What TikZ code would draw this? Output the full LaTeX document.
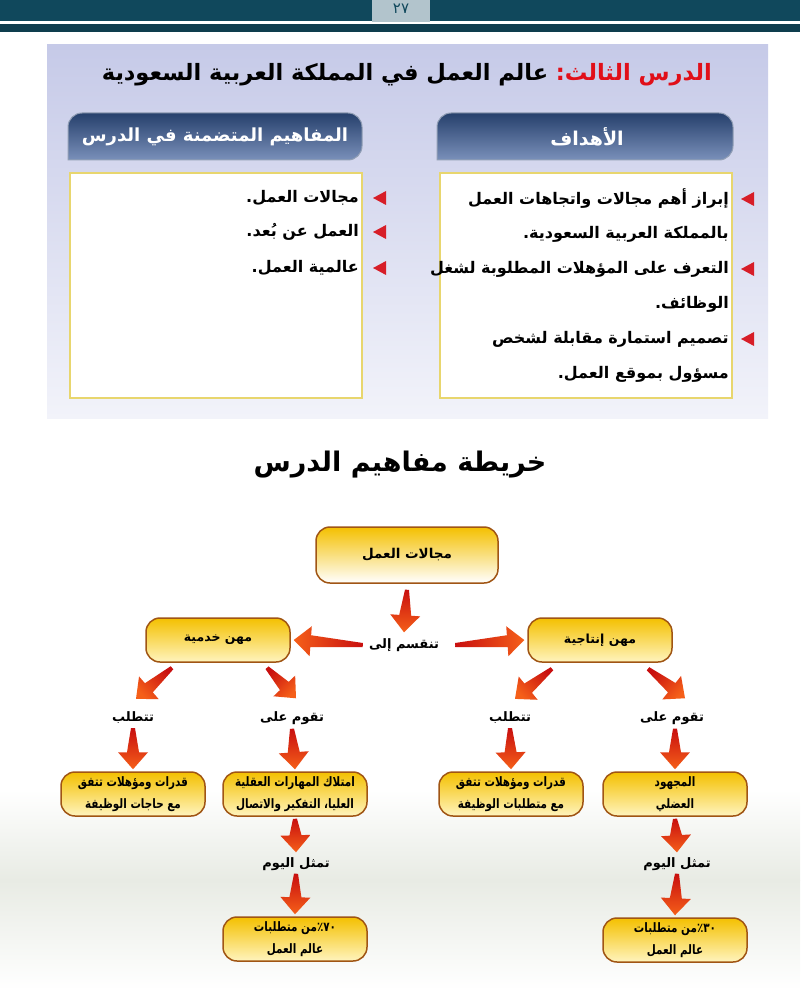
\documentclass[tikz,border=0pt]{standalone}
\usepackage{fontspec}
\usetikzlibrary{calc}
\newfontfamily\ar[Script=Arabic]{DejaVu Sans}
\newfontfamily\arc[Script=Arabic,FakeStretch=0.8]{DejaVu Sans}
\TeXXeTstate=1
\definecolor{topteal}{RGB}{16,72,92}
\definecolor{tabgray}{RGB}{178,196,204}
\definecolor{lav}{RGB}{198,202,232}
\definecolor{lavlight}{RGB}{242,243,250}
\definecolor{tabtop}{RGB}{38,64,108}
\definecolor{tabbot}{RGB}{122,144,186}
\definecolor{boxline}{RGB}{232,214,110}
\definecolor{markred}{RGB}{215,30,40}
\definecolor{nodeline}{RGB}{160,85,20}
\definecolor{nodetop}{RGB}{244,192,0}
\definecolor{nodebot}{RGB}{255,244,190}
\definecolor{arrred}{RGB}{200,15,15}
\definecolor{arrorange}{RGB}{245,95,25}
\definecolor{titlered}{RGB}{225,15,25}
\definecolor{bandgray}{RGB}{232,235,228}
\newcommand\fatarrow[3][0]{%
 \shade[top color=arrred, bottom color=arrorange, shading angle=#1]
  ($#2!2pt!90:#3$) -- ($($#3!17pt!#2$)!6pt!90:#3$) -- ($($#3!17pt!#2$)!15pt!90:#3$)
  -- #3 -- ($($#3!17pt!#2$)!15pt!-90:#3$) -- ($($#3!17pt!#2$)!6pt!-90:#3$)
  -- ($#2!2pt!-90:#3$) -- cycle;}
\begin{document}
\begin{tikzpicture}[x=1pt,y=-1pt,
  fnode/.style={draw=nodeline, line width=1.5pt, rounded corners=14pt,
    top color=nodetop, bottom color=nodebot, minimum width=144pt, minimum height=44pt,
    align=center, inner sep=2pt, font=\ar\bfseries\fontsize{12.5}{22}\selectfont},
  fnode2/.style={fnode, font=\arc\bfseries\fontsize{13}{22}\selectfont},
  lbl/.style={inner sep=2pt, font=\ar\bfseries\fontsize{13}{15}\selectfont},
  listtxt/.style={anchor=east, inner sep=0pt, font=\ar\bfseries\fontsize{16}{18}\selectfont},
  listbox/.style={draw=boxline, line width=1.5pt, fill=white},
  tabshape/.style={top color=tabtop, bottom color=tabbot, draw=tabtop!50!white, line width=1pt},
  tabtxt/.style={text=white, font=\ar\bfseries\fontsize{18}{20}\selectfont},
  titletxt/.style={anchor=east, inner sep=0pt, font=\ar\bfseries\fontsize{22.5}{26}\selectfont},
  marker/.style={fill=markred}]
\useasboundingbox (0,0) rectangle (800,1000);
\fill[white] (0,0) rectangle (800,1000);
% top bar
\fill[topteal] (0,0) rectangle (800,21);
\fill[topteal!85!black] (0,24) rectangle (800,32);
\fill[tabgray] (372,0) rectangle (430,22);
\node[text=topteal, font=\ar\fontsize{15}{16}\selectfont] (pnum) at (401,9) {٢٧};
% lavender panel
\shade[top color=lav, bottom color=lavlight] (47,45) rectangle (768,418);
\node[titletxt, text=titlered] (titleA) at (712,75) {\beginR الدرس الثالث:\endR};
\node[titletxt] (titleB) at ([xshift=-7pt]titleA.east -| titleA.west) {\beginR عالم العمل في المملكة العربية السعودية\endR};
% tabs
\path[tabshape] (68,160) [rounded corners=14pt] |- (215,113) -| (362,160) [sharp corners] -- cycle;
\path[tabshape] (437,160) [rounded corners=14pt] |- (585,113) -| (733,160) [sharp corners] -- cycle;
\node[tabtxt] (tabL) at (215,137) {\beginR المفاهيم المتضمنة في الدرس\endR};
\node[tabtxt, font=\ar\bfseries\fontsize{19}{21}\selectfont] (tabR) at (587,137) {\beginR الأهداف\endR};
% boxes
\draw[listbox] (70,173) rectangle (362,398);
\draw[listbox] (440,173) rectangle (732,398);
% left list
\foreach \y in {198,232,268} {\fill[marker] (373,\y) -- (386,\y-7) -- (386,\y+7) -- cycle;}
\node[listtxt] (c1) at (359,198) {\beginR مجالات العمل.\endR};
\node[listtxt] (c2) at (359,232) {\beginR العمل عن بُعد.\endR};
\node[listtxt] (c3) at (359,268) {\beginR عالمية العمل.\endR};
% right list
\foreach \y in {199,269,339} {\fill[marker] (741,\y) -- (754,\y-7) -- (754,\y+7) -- cycle;}
\node[listtxt] (g1) at (729,199) {\beginR إبراز أهم مجالات واتجاهات العمل\endR};
\node[listtxt] (g2) at (729,234) {\beginR بالمملكة العربية السعودية.\endR};
\node[listtxt] (g3) at (729,269) {\beginR التعرف على المؤهلات المطلوبة لشغل\endR};
\node[listtxt] (g4) at (729,304) {\beginR الوظائف.\endR};
\node[listtxt] (g5) at (729,339) {\beginR تصميم استمارة مقابلة لشخص\endR};
\node[listtxt] (g6) at (729,374) {\beginR مسؤول بموقع العمل.\endR};
% map title
\node[font=\ar\bfseries\fontsize{27}{30}\selectfont] (maptitle) at (400,465) {\beginR خريطة مفاهيم الدرس\endR};
% faint band
\shade[top color=white, bottom color=bandgray] (0,790) rectangle (800,880);
\shade[top color=bandgray, bottom color=white] (0,880) rectangle (800,990);
% nodes
\node[fnode, minimum width=182pt, minimum height=56pt, bottom color=white, font=\ar\bfseries\fontsize{13.5}{16}\selectfont] (root) at (407,555) {\beginR مجالات العمل\endR};
\node[lbl] (split) at (404,645) {\beginR تنقسم إلى\endR};
\node[fnode] (serv) at (218,640) {\beginR مهن خدمية\endR};
\node[fnode] (prod) at (600,640) {\beginR مهن إنتاجية\endR};
\node[lbl] (req1) at (133,718) {\beginR تتطلب\endR};
\node[lbl] (base1) at (292,718) {\beginR تقوم على\endR};
\node[lbl] (req2) at (510,718) {\beginR تتطلب\endR};
\node[lbl] (base2) at (672,718) {\beginR تقوم على\endR};
\node[fnode2] (q1) at (133,794) {\beginR قدرات ومؤهلات تتفق\endR\\\beginR مع حاجات الوظيفة\endR};
\node[fnode2] (skills) at (295,794) {\beginR امتلاك المهارات العقلية\endR\\\beginR العليا، التفكير والاتصال\endR};
\node[fnode2] (q2) at (511,794) {\beginR قدرات ومؤهلات تتفق\endR\\\beginR مع متطلبات الوظيفة\endR};
\node[fnode2] (effort) at (675,794) {\beginR المجهود\endR\\\beginR العضلي\endR};
\node[lbl] (rep1) at (296,864) {\beginR تمثل اليوم\endR};
\node[lbl] (rep2) at (677,864) {\beginR تمثل اليوم\endR};
\node[fnode2] (p70) at (295,939) {\beginR ٧٠٪من متطلبات\endR\\\beginR عالم العمل\endR};
\node[fnode2] (p30) at (675,940) {\beginR ٣٠٪من متطلبات\endR\\\beginR عالم العمل\endR};
% arrow end points
\coordinate (a1s) at ([yshift=-6pt]root.south);
\coordinate (a1e) at ([yshift=4pt]split.north);
\coordinate (a2s) at ([xshift=-4pt]split.west);
\coordinate (a2e) at ([xshift=3pt]serv.east);
\coordinate (a3s) at ([xshift=14pt]split.east);
\coordinate (a3e) at ([xshift=-3pt]prod.west);
\coordinate (a4s) at ($(serv.south)+(-46,5)$);
\coordinate (a4e) at ($(req1.north)+(3,-11)$);
\coordinate (a5s) at ($(serv.south)+(49,5)$);
\coordinate (a5e) at ($(base1.north)+(4,-11)$);
\coordinate (a6s) at ($(prod.south)+(-48,6)$);
\coordinate (a6e) at ($(req2.north)+(5,-11)$);
\coordinate (a7s) at ($(prod.south)+(48,6)$);
\coordinate (a7e) at ($(base2.north)+(13,-11)$);
\fatarrow{(a1s)}{(a1e)}
\fatarrow[-90]{(a2s)}{(a2e)}
\fatarrow[90]{(a3s)}{(a3e)}
\fatarrow[-45]{(a4s)}{(a4e)}
\fatarrow[45]{(a5s)}{(a5e)}
\fatarrow[-45]{(a6s)}{(a6e)}
\fatarrow[45]{(a7s)}{(a7e)}
\fatarrow{([yshift=-2pt]req1.south)}{([yshift=2pt]q1.north)}
\fatarrow{([yshift=-2pt]base1.south)}{([yshift=2pt]skills.north)}
\fatarrow{([yshift=-2pt]req2.south)}{([yshift=2pt]q2.north)}
\fatarrow{([yshift=-2pt,xshift=3pt]base2.south)}{([yshift=2pt]effort.north)}
\fatarrow{([yshift=-2pt]skills.south)}{([yshift=3pt]rep1.north)}
\fatarrow{([yshift=-1pt]rep1.south)}{([yshift=2pt]p70.north)}
\fatarrow{([yshift=-2pt]effort.south)}{([yshift=3pt]rep2.north)}
\fatarrow{([yshift=-1pt]rep2.south)}{([yshift=2pt]p30.north)}
\end{tikzpicture}
\end{document}
